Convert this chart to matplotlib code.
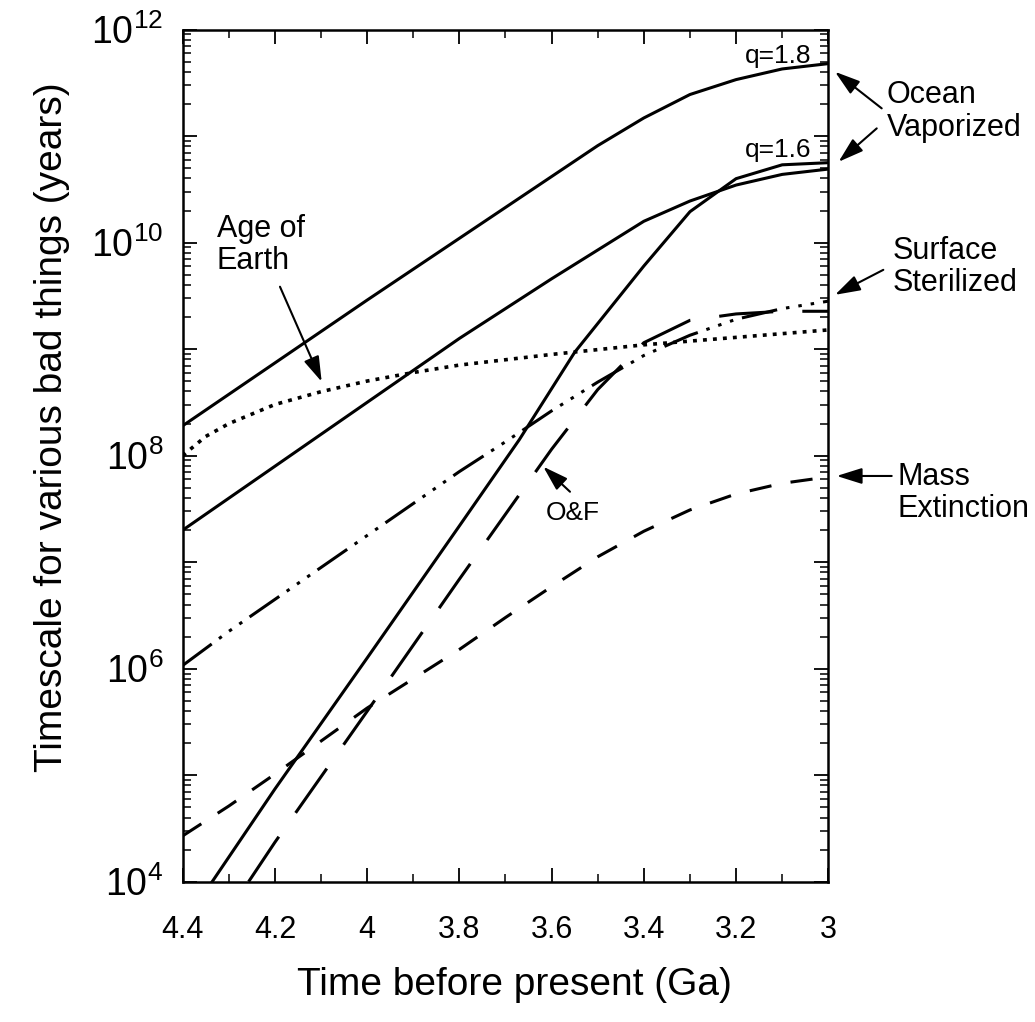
import numpy as np
import matplotlib
matplotlib.use("Agg")
import matplotlib.pyplot as plt
from matplotlib.ticker import FuncFormatter, LogLocator, NullFormatter

plt.rcParams["font.family"] = ["Liberation Sans", "DejaVu Sans"]
plt.rcParams["mathtext.default"] = "regular"
plt.rcParams["lines.scale_dashes"] = False

# time before present (Ga) and log10 of each timescale (years)
t_q18 = [4.4, 4.2, 4.0, 3.8, 3.7, 3.6, 3.5, 3.4, 3.3, 3.2, 3.1, 3.0]
ocean_q18 = [8.28, 8.87, 9.46, 10.04, 10.33, 10.62, 10.91, 11.17, 11.39, 11.53, 11.63, 11.68]

t_q16 = [4.4, 4.2, 4.0, 3.8, 3.7, 3.6, 3.5, 3.4, 3.3, 3.2, 3.1, 3.0]
ocean_q16 = [7.30, 7.90, 8.50, 9.10, 9.38, 9.66, 9.93, 10.20, 10.39, 10.54, 10.64, 10.69]

# Oberbeck & Fogleman versions
t_of = [4.336, 4.2, 4.0, 3.8, 3.67, 3.55, 3.4, 3.3, 3.2, 3.1, 3.0]
ocean_of = [4.0, 4.87, 6.10, 7.34, 8.15, 8.97, 9.78, 10.29, 10.60, 10.73, 10.75]

t_steril_of = [4.257, 4.2, 4.0, 3.8, 3.6, 3.5, 3.4, 3.3, 3.2, 3.1, 3.0]
steril_of = [4.0, 4.37, 5.60, 6.84, 8.06, 8.62, 9.06, 9.27, 9.33, 9.355, 9.355]

t_steril = [4.4, 4.3, 4.2, 4.0, 3.8, 3.7, 3.6, 3.5, 3.4, 3.3, 3.2, 3.1, 3.0]
steril = [6.03, 6.35, 6.65, 7.25, 7.85, 8.13, 8.42, 8.69, 8.94, 9.13, 9.28, 9.38, 9.45]

t_age = [4.4, 4.35, 4.3, 4.2, 4.1, 4.0, 3.9, 3.8, 3.6, 3.4, 3.2, 3.0]
age_earth = [8.0, 8.18, 8.30, 8.48, 8.60, 8.70, 8.78, 8.85, 8.95, 9.04, 9.11, 9.18]

t_mass = [4.4, 4.3, 4.2, 4.0, 3.8, 3.7, 3.6, 3.5, 3.4, 3.3, 3.2, 3.1, 3.0]
mass_ext = [4.43, 4.71, 5.01, 5.63, 6.18, 6.48, 6.77, 7.05, 7.29, 7.49, 7.64, 7.74, 7.80]

xticks = [4.4, 4.2, 4.0, 3.8, 3.6, 3.4, 3.2, 3.0]
xtick_labels = ["4.4", "4.2", "4", "3.8", "3.6", "3.4", "3.2", "3"]
xminor = [4.3, 4.1, 3.9, 3.7, 3.5, 3.3, 3.1]

fig = plt.figure(figsize=(10.35, 10.22), dpi=100)
ax = fig.add_axes([0.1765, 0.1373, 0.6238, 0.8338])

lw = 2.2
ax.plot(t_q18, 10 ** np.array(ocean_q18), color="black", lw=lw)
ax.plot(t_q16, 10 ** np.array(ocean_q16), color="black", lw=lw)
ax.plot(t_of, 10 ** np.array(ocean_of), color="black", lw=lw)
ax.plot(t_steril_of, 10 ** np.array(steril_of), color="black", lw=lw,
        dashes=(39, 21))
ax.plot(t_steril, 10 ** np.array(steril), color="black", lw=lw,
        dashes=(26, 6.5, 2.5, 6.5, 2.5, 6.5, 2.5, 6.5))
ax.plot(t_age, 10 ** np.array(age_earth), color="black", lw=2.6,
        dashes=(2.8, 4.4))
ax.plot(t_mass, 10 ** np.array(mass_ext), color="black", lw=lw,
        dashes=(16, 14))

ax.set_yscale("log")
ax.set_xlim(4.4, 3.0)
ax.set_ylim(1e4, 1e12)

ax.set_xticks(xticks)
ax.set_xticklabels(xtick_labels)
ax.set_xticks(xminor, minor=True)

ax.yaxis.set_major_locator(LogLocator(base=10, numticks=20))
ax.yaxis.set_minor_locator(LogLocator(base=10, subs=np.arange(2, 10), numticks=100))
ax.yaxis.set_minor_formatter(NullFormatter())


def even_powers(v, pos):
    e = int(round(np.log10(v)))
    return f"$10^{{{e}}}$" if e % 2 == 0 else ""


ax.yaxis.set_major_formatter(FuncFormatter(even_powers))

ax.tick_params(which="both", direction="in", top=True, right=True)
ax.tick_params(which="major", length=10, width=1.3)
ax.tick_params(which="minor", length=5.5, width=1.1)
ax.tick_params(axis="x", which="major", labelsize=22, pad=24)
ax.tick_params(axis="y", which="major", labelsize=27, pad=14)
for sp in ax.spines.values():
    sp.set_linewidth(1.8)

fig.text(514.5 / 1035, 1 - 985 / 1022, "Time before present (Ga)",
         fontsize=28, ha="center", va="center")
fig.text(52 / 1035, 1 - 427 / 1022, "Timescale for various bad things (years)",
         fontsize=28, ha="center", va="center", rotation=90)

arrow = dict(arrowstyle="-|>,head_length=0.7,head_width=0.22", color="black",
             lw=1.5, mutation_scale=22, shrinkA=0, shrinkB=0)

ax.text(0.9743, 0.9603, "q=1.8", transform=ax.transAxes, fontsize=19,
        ha="right", va="baseline")
ax.text(0.9743, 0.8508, "q=1.6", transform=ax.transAxes, fontsize=19,
        ha="right", va="baseline")

ax.text(1.0905, 0.9038, "Ocean\nVaporized", transform=ax.transAxes,
        fontsize=22, ha="left", va="center", linespacing=1.1)
ax.annotate("", xy=(1.0104, 0.9504), xytext=(1.0827, 0.9075),
            xycoords="axes fraction", arrowprops=arrow, annotation_clip=False)
ax.annotate("", xy=(1.0159, 0.8448), xytext=(1.0750, 0.8840),
            xycoords="axes fraction", arrowprops=arrow, annotation_clip=False)

ax.text(1.1002, 0.7210, "Surface\nSterilized", transform=ax.transAxes,
        fontsize=22, ha="left", va="center", linespacing=1.1)
ax.annotate("", xy=(1.0104, 0.6887), xytext=(1.0852, 0.7180),
            xycoords="axes fraction", arrowprops=arrow, annotation_clip=False)

ax.text(1.1079, 0.4559, "Mass\nExtinction", transform=ax.transAxes,
        fontsize=22, ha="left", va="center", linespacing=1.1)
ax.annotate("", xy=(1.0130, 0.4761), xytext=(1.0982, 0.4761),
            xycoords="axes fraction", arrowprops=arrow, annotation_clip=False)

ax.text(0.0527, 0.7471, "Age of\nEarth", transform=ax.transAxes,
        fontsize=22, ha="left", va="center", linespacing=1.1)
ax.annotate("", xy=(0.2153, 0.5867), xytext=(0.1507, 0.6982),
            xycoords="axes fraction", arrowprops=arrow)

ax.text(0.6045, 0.4326, "O&F", transform=ax.transAxes, fontsize=19,
        ha="center", va="center")
ax.annotate("", xy=(0.5585, 0.4870), xytext=(0.5999, 0.4576),
            xycoords="axes fraction", arrowprops=arrow)

fig.savefig("out.png", dpi=100)
